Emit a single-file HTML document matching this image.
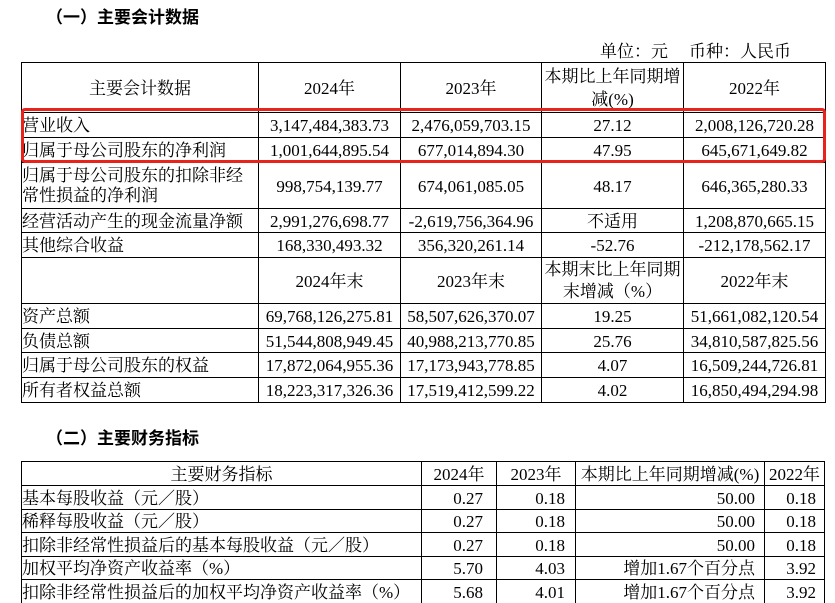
<!DOCTYPE html>
<html><head><meta charset="utf-8">
<style>
*{margin:0;padding:0;box-sizing:border-box}
body{width:835px;height:603px;background:#fff;position:relative;overflow:hidden;font-family:"Liberation Serif","Noto Serif CJK SC",serif;font-size:17px;color:#000}
.h{position:absolute;height:1px;background:#000}
.v{position:absolute;width:1px;background:#000}
.c{position:absolute;display:flex;align-items:center;white-space:nowrap;line-height:19px;padding-top:2px}
.m{justify-content:center;text-align:center}
.l{justify-content:flex-start}
.r{justify-content:flex-end}
.t{position:absolute;font-family:"Liberation Sans","Noto Sans CJK SC",sans-serif;font-weight:bold;font-size:17px;line-height:20px;white-space:nowrap}
.red{position:absolute;left:21px;top:108px;width:805px;height:55px;border:3px solid #e8231c;border-radius:4px}
</style></head><body>

<div class="t" style="left:46px;top:8px">（一）主要会计数据</div>
<div class="c l" style="left:600px;top:40px;height:20px">单位：元</div>
<div class="c l" style="left:689px;top:40px;height:20px">币种：人民币</div>

<!-- table 1 lines -->
<div class="h" style="left:21px;width:805px;top:62px"></div>
<div class="h" style="left:21px;width:805px;top:112px"></div>
<div class="h" style="left:21px;width:805px;top:137px"></div>
<div class="h" style="left:21px;width:805px;top:162px"></div>
<div class="h" style="left:21px;width:805px;top:208px"></div>
<div class="h" style="left:21px;width:805px;top:232px"></div>
<div class="h" style="left:21px;width:805px;top:257px"></div>
<div class="h" style="left:21px;width:805px;top:303px"></div>
<div class="h" style="left:21px;width:805px;top:328px"></div>
<div class="h" style="left:21px;width:805px;top:352px"></div>
<div class="h" style="left:21px;width:805px;top:377px"></div>
<div class="h" style="left:21px;width:805px;top:402px"></div>
<div class="v" style="left:21px;top:62px;height:341px"></div>
<div class="v" style="left:258px;top:62px;height:341px"></div>
<div class="v" style="left:400px;top:62px;height:341px"></div>
<div class="v" style="left:541px;top:62px;height:341px"></div>
<div class="v" style="left:683px;top:62px;height:341px"></div>
<div class="v" style="left:825px;top:62px;height:341px"></div>

<!-- header -->
<div class="c m" style="left:22px;width:236px;top:62px;height:50px">主要会计数据</div>
<div class="c m" style="left:259px;width:141px;top:62px;height:50px">2024年</div>
<div class="c m" style="left:401px;width:140px;top:62px;height:50px">2023年</div>
<div class="c m" style="left:542px;width:141px;top:62px;height:50px;line-height:23px">本期比上年同期增<br>减(%)</div>
<div class="c m" style="left:684px;width:141px;top:62px;height:50px">2022年</div>

<!-- row 1 -->
<div class="c l" style="left:22px;width:236px;top:112px;height:25px">营业收入</div>
<div class="c m" style="left:259px;width:141px;top:112px;height:25px">3,147,484,383.73</div>
<div class="c m" style="left:401px;width:140px;top:112px;height:25px">2,476,059,703.15</div>
<div class="c m" style="left:542px;width:141px;top:112px;height:25px">27.12</div>
<div class="c m" style="left:684px;width:141px;top:112px;height:25px">2,008,126,720.28</div>
<!-- row 2 -->
<div class="c l" style="left:22px;width:236px;top:137px;height:25px">归属于母公司股东的净利润</div>
<div class="c m" style="left:259px;width:141px;top:137px;height:25px">1,001,644,895.54</div>
<div class="c m" style="left:401px;width:140px;top:137px;height:25px">677,014,894.30</div>
<div class="c m" style="left:542px;width:141px;top:137px;height:25px">47.95</div>
<div class="c m" style="left:684px;width:141px;top:137px;height:25px">645,671,649.82</div>
<!-- row 3 -->
<div class="c l" style="left:22px;width:236px;top:162px;height:46px;line-height:20px">归属于母公司股东的扣除非经<br>常性损益的净利润</div>
<div class="c m" style="left:259px;width:141px;top:162px;height:46px">998,754,139.77</div>
<div class="c m" style="left:401px;width:140px;top:162px;height:46px">674,061,085.05</div>
<div class="c m" style="left:542px;width:141px;top:162px;height:46px">48.17</div>
<div class="c m" style="left:684px;width:141px;top:162px;height:46px">646,365,280.33</div>
<!-- row 4 -->
<div class="c l" style="left:22px;width:236px;top:208px;height:24px">经营活动产生的现金流量净额</div>
<div class="c m" style="left:259px;width:141px;top:208px;height:24px">2,991,276,698.77</div>
<div class="c m" style="left:401px;width:140px;top:208px;height:24px">-2,619,756,364.96</div>
<div class="c m" style="left:542px;width:141px;top:208px;height:24px">不适用</div>
<div class="c m" style="left:684px;width:141px;top:208px;height:24px">1,208,870,665.15</div>
<!-- row 5 -->
<div class="c l" style="left:22px;width:236px;top:232px;height:25px">其他综合收益</div>
<div class="c m" style="left:259px;width:141px;top:232px;height:25px">168,330,493.32</div>
<div class="c m" style="left:401px;width:140px;top:232px;height:25px">356,320,261.14</div>
<div class="c m" style="left:542px;width:141px;top:232px;height:25px">-52.76</div>
<div class="c m" style="left:684px;width:141px;top:232px;height:25px">-212,178,562.17</div>
<!-- header 2 -->
<div class="c m" style="left:259px;width:141px;top:257px;height:46px">2024年末</div>
<div class="c m" style="left:401px;width:140px;top:257px;height:46px">2023年末</div>
<div class="c m" style="left:542px;width:141px;top:257px;height:46px;line-height:22px">本期末比上年同期<br>末增减（%）</div>
<div class="c m" style="left:684px;width:141px;top:257px;height:46px">2022年末</div>
<!-- row 6 -->
<div class="c l" style="left:22px;width:236px;top:303px;height:25px">资产总额</div>
<div class="c m" style="left:259px;width:141px;top:303px;height:25px">69,768,126,275.81</div>
<div class="c m" style="left:401px;width:140px;top:303px;height:25px">58,507,626,370.07</div>
<div class="c m" style="left:542px;width:141px;top:303px;height:25px">19.25</div>
<div class="c m" style="left:684px;width:141px;top:303px;height:25px">51,661,082,120.54</div>
<!-- row 7 -->
<div class="c l" style="left:22px;width:236px;top:328px;height:24px">负债总额</div>
<div class="c m" style="left:259px;width:141px;top:328px;height:24px">51,544,808,949.45</div>
<div class="c m" style="left:401px;width:140px;top:328px;height:24px">40,988,213,770.85</div>
<div class="c m" style="left:542px;width:141px;top:328px;height:24px">25.76</div>
<div class="c m" style="left:684px;width:141px;top:328px;height:24px">34,810,587,825.56</div>
<!-- row 8 -->
<div class="c l" style="left:22px;width:236px;top:352px;height:25px">归属于母公司股东的权益</div>
<div class="c m" style="left:259px;width:141px;top:352px;height:25px">17,872,064,955.36</div>
<div class="c m" style="left:401px;width:140px;top:352px;height:25px">17,173,943,778.85</div>
<div class="c m" style="left:542px;width:141px;top:352px;height:25px">4.07</div>
<div class="c m" style="left:684px;width:141px;top:352px;height:25px">16,509,244,726.81</div>
<!-- row 9 -->
<div class="c l" style="left:22px;width:236px;top:377px;height:25px">所有者权益总额</div>
<div class="c m" style="left:259px;width:141px;top:377px;height:25px">18,223,317,326.36</div>
<div class="c m" style="left:401px;width:140px;top:377px;height:25px">17,519,412,599.22</div>
<div class="c m" style="left:542px;width:141px;top:377px;height:25px">4.02</div>
<div class="c m" style="left:684px;width:141px;top:377px;height:25px">16,850,494,294.98</div>

<div class="red"></div>

<div class="t" style="left:46px;top:429px">（二）主要财务指标</div>

<!-- table 2 lines -->
<div class="h" style="left:21px;width:804px;top:461px"></div>
<div class="h" style="left:21px;width:804px;top:485px"></div>
<div class="h" style="left:21px;width:804px;top:509px"></div>
<div class="h" style="left:21px;width:804px;top:532px"></div>
<div class="h" style="left:21px;width:804px;top:556px"></div>
<div class="h" style="left:21px;width:804px;top:579px"></div>
<div class="v" style="left:21px;top:461px;height:142px"></div>
<div class="v" style="left:421px;top:461px;height:142px"></div>
<div class="v" style="left:496px;top:461px;height:142px"></div>
<div class="v" style="left:575px;top:461px;height:142px"></div>
<div class="v" style="left:764px;top:461px;height:142px"></div>
<div class="v" style="left:824px;top:461px;height:142px"></div>

<div class="c m" style="left:22px;width:399px;top:461px;height:24px">主要财务指标</div>
<div class="c m" style="left:422px;width:74px;top:461px;height:24px">2024年</div>
<div class="c m" style="left:497px;width:78px;top:461px;height:24px">2023年</div>
<div class="c m" style="left:576px;width:188px;top:461px;height:24px">本期比上年同期增减(%)</div>
<div class="c m" style="left:765px;width:59px;top:461px;height:24px">2022年</div>

<div class="c l" style="left:22px;width:399px;top:485px;height:24px">基本每股收益（元／股）</div>
<div class="c r" style="left:422px;width:61px;top:485px;height:24px">0.27</div>
<div class="c r" style="left:497px;width:68px;top:485px;height:24px">0.18</div>
<div class="c r" style="left:576px;width:179px;top:485px;height:24px">50.00</div>
<div class="c r" style="left:765px;width:51px;top:485px;height:24px">0.18</div>

<div class="c l" style="left:22px;width:399px;top:509px;height:23px">稀释每股收益（元／股）</div>
<div class="c r" style="left:422px;width:61px;top:509px;height:23px">0.27</div>
<div class="c r" style="left:497px;width:68px;top:509px;height:23px">0.18</div>
<div class="c r" style="left:576px;width:179px;top:509px;height:23px">50.00</div>
<div class="c r" style="left:765px;width:51px;top:509px;height:23px">0.18</div>

<div class="c l" style="left:22px;width:399px;top:532px;height:24px">扣除非经常性损益后的基本每股收益（元／股）</div>
<div class="c r" style="left:422px;width:61px;top:532px;height:24px">0.27</div>
<div class="c r" style="left:497px;width:68px;top:532px;height:24px">0.18</div>
<div class="c r" style="left:576px;width:179px;top:532px;height:24px">50.00</div>
<div class="c r" style="left:765px;width:51px;top:532px;height:24px">0.18</div>

<div class="c l" style="left:22px;width:399px;top:556px;height:23px">加权平均净资产收益率（%）</div>
<div class="c r" style="left:422px;width:61px;top:556px;height:23px">5.70</div>
<div class="c r" style="left:497px;width:68px;top:556px;height:23px">4.03</div>
<div class="c r" style="left:576px;width:179px;top:556px;height:23px">增加1.67个百分点</div>
<div class="c r" style="left:765px;width:51px;top:556px;height:23px">3.92</div>

<div class="c l" style="left:22px;width:399px;top:579px;height:24px">扣除非经常性损益后的加权平均净资产收益率（%）</div>
<div class="c r" style="left:422px;width:61px;top:579px;height:24px">5.68</div>
<div class="c r" style="left:497px;width:68px;top:579px;height:24px">4.01</div>
<div class="c r" style="left:576px;width:179px;top:579px;height:24px">增加1.67个百分点</div>
<div class="c r" style="left:765px;width:51px;top:579px;height:24px">3.92</div>

</body></html>
